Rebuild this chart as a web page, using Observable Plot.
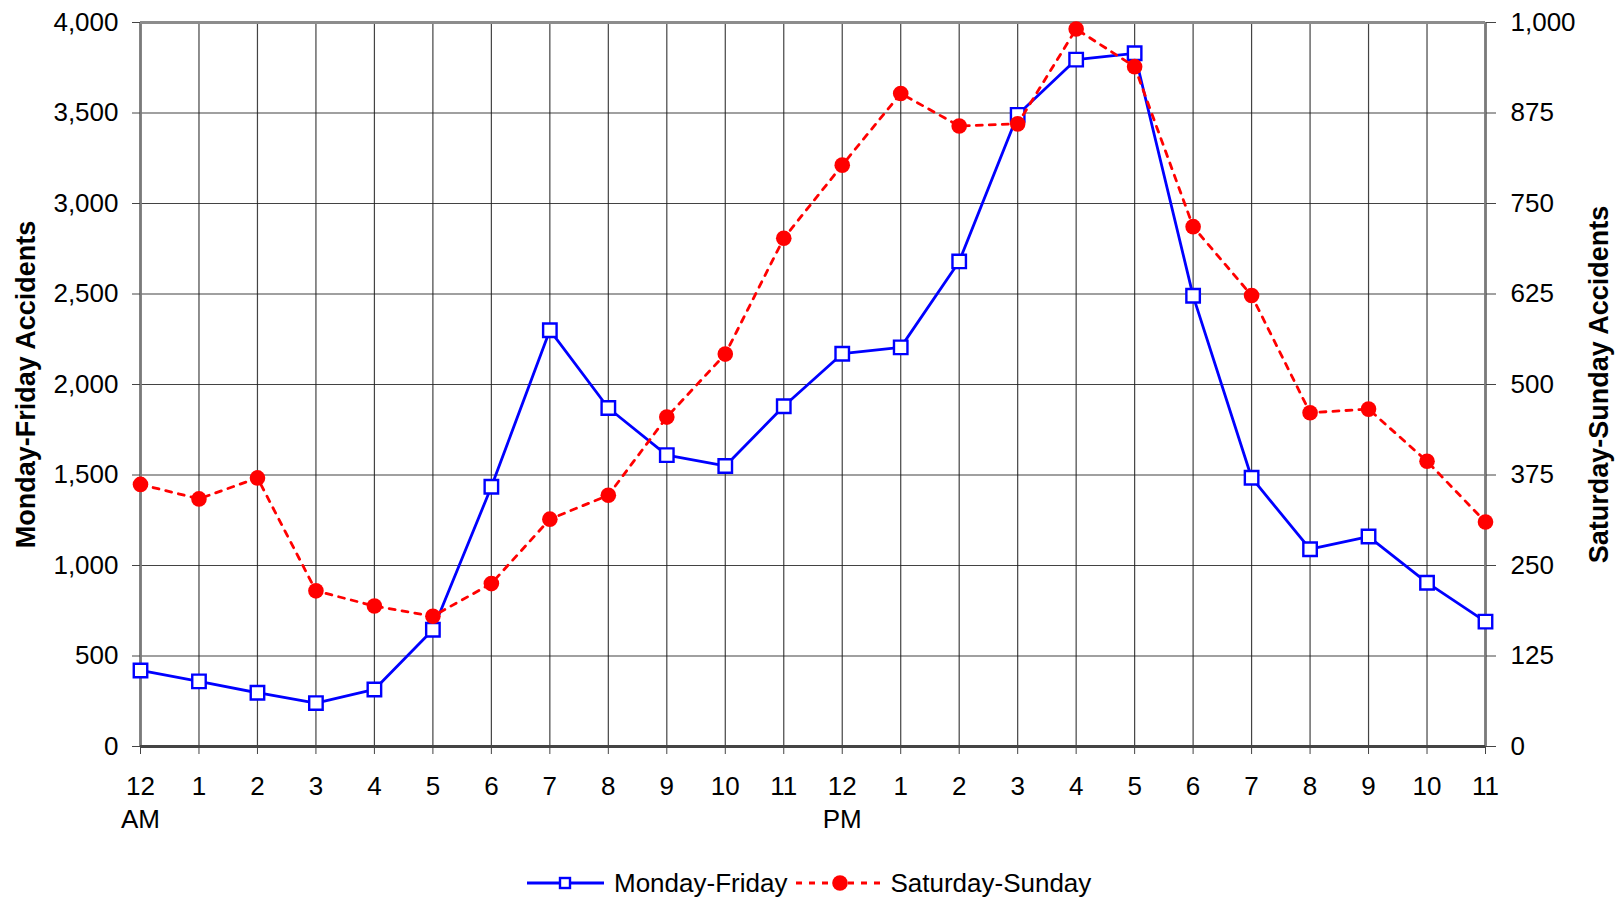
<!DOCTYPE html>
<html>
<head>
<meta charset="utf-8">
<script src="https://cdn.jsdelivr.net/npm/d3@7"></script>
<script src="https://cdn.jsdelivr.net/npm/@observablehq/plot@0.6"></script>
<style>
  html, body { margin: 0; padding: 0; background: #fff; }
  body { position: relative; width: 1619px; height: 899px; overflow: hidden; font-family: "Liberation Sans", Arial, sans-serif; }
  #chart svg { display: block; max-width: none !important; }
  #legend { position: absolute; left: 527px; top: 864px; height: 38px; display: flex; align-items: center; font-size: 26px; color: #000; white-space: nowrap; }
  #legend .item { display: flex; align-items: center; }
  #legend svg { display: block; }
</style>
</head>
<body>
<div id="chart"></div>
<div id="legend"></div>
<script>
// ---- data ----
const hours = [0,1,2,3,4,5,6,7,8,9,10,11,12,13,14,15,16,17,18,19,20,21,22,23];
const hourLabels = ["12","1","2","3","4","5","6","7","8","9","10","11","12","1","2","3","4","5","6","7","8","9","10","11"];
const periodHours = [0, 12];
const periodNames = ["AM", "PM"];
const weekday = [420,360,297,240,315,645,1435,2300,1870,1610,1550,1880,2170,2205,2680,3490,3795,3830,2490,1485,1090,1160,905,690];
const weekend = [362,342,371,215,194,180,225,314,347,455,542,702,803,902,857,860,991,939,718,623,461,466,394,310];
const leftTicks = [0,500,1000,1500,2000,2500,3000,3500,4000];
const seriesNames = ["Monday-Friday", "Saturday-Sunday"];
const leftTitle = "Monday-Friday Accidents";
const rightTitle = "Saturday-Sunday Accidents";

const wd = hours.map((h, i) => ({hour: h, value: weekday[i]}));
const we = hours.map((h, i) => ({hour: h, value: weekend[i]}));
const periods = periodHours.map((h, i) => ({hour: h, label: periodNames[i]}));
const ratio = 4000 / 1000; // right axis 0..1000 mapped onto left 0..4000

const fmt = d3.format(",");
const blue = "#0000ff", red = "#ff0000";
const dash = "6,7";

const plot = Plot.plot({
  width: 1619,
  height: 850,
  marginLeft: 140,
  marginRight: 134,
  marginTop: 22,
  marginBottom: 104,
  style: {fontFamily: "'Liberation Sans', Arial, sans-serif", fontSize: "26px", color: "#000", background: "#fff"},
  x: {domain: [0, 23]},
  y: {domain: [0, 4000]},
  marks: [
    Plot.gridX(hours, {stroke: "#222", strokeOpacity: 0.85, strokeWidth: 1.2}),
    Plot.gridY(leftTicks, {stroke: "#222", strokeOpacity: 0.85, strokeWidth: 1.2}),
    Plot.ruleX([0, 23], {stroke: "#7a7a7a", strokeWidth: 2.8}),
    Plot.ruleY([4000], {stroke: "#8c8c8c", strokeWidth: 2.8}),
    Plot.ruleY([0], {stroke: "#444", strokeWidth: 2.8}),
    Plot.axisX(hours, {
      tickSize: 8, tickPadding: 22, stroke: "#444",
      tickFormat: (d) => hourLabels[hours.indexOf(d)],
      fontSize: 26, label: null
    }),
    Plot.text(periods, {x: "hour", text: "label", frameAnchor: "bottom", dy: 81, fontSize: 26}),
    Plot.axisY(leftTicks, {
      anchor: "left", tickSize: 8, tickPadding: 14, stroke: "#444",
      tickFormat: fmt, fontSize: 26, label: null
    }),
    Plot.axisY(leftTicks, {
      anchor: "right", tickSize: 10, tickPadding: 15, stroke: "#444",
      tickFormat: d => fmt(d / ratio), fontSize: 26, label: null
    }),
    Plot.text([leftTitle], {frameAnchor: "left", textAnchor: "middle", dx: -114, rotate: -90, text: d => d, fontWeight: "bold", fontSize: 27}),
    Plot.text([rightTitle], {frameAnchor: "right", textAnchor: "middle", dx: 114, rotate: -90, text: d => d, fontWeight: "bold", fontSize: 27}),
    Plot.line(wd, {x: "hour", y: "value", stroke: blue, strokeWidth: 2.8}),
    Plot.dot(wd, {x: "hour", y: "value", symbol: "square", r: 7.6, stroke: blue, strokeWidth: 2.4, fill: "#fff"}),
    Plot.line(we, {x: "hour", y: d => d.value * ratio, stroke: red, strokeWidth: 2.8, strokeDasharray: dash}),
    Plot.dot(we, {x: "hour", y: d => d.value * ratio, r: 7.8, fill: red, stroke: "none"})
  ]
});
document.getElementById("chart").appendChild(plot);

// ---- legend ----
const legend = d3.select("#legend");
const item1 = legend.append("div").attr("class", "item");
const s1 = item1.append("svg").attr("width", 78).attr("height", 30);
s1.append("line").attr("x1", 0).attr("x2", 77).attr("y1", 15).attr("y2", 15).attr("stroke", blue).attr("stroke-width", 2.8);
s1.append("rect").attr("x", 33).attr("y", 10).attr("width", 10).attr("height", 10).attr("fill", "#fff").attr("stroke", blue).attr("stroke-width", 2.4);
item1.append("span").text(seriesNames[0]).style("margin-left", "9px").style("margin-right", "9px");
const item2 = legend.append("div").attr("class", "item");
const s2 = item2.append("svg").attr("width", 84).attr("height", 30);
s2.append("line").attr("x1", 0).attr("x2", 84).attr("y1", 15).attr("y2", 15).attr("stroke", red).attr("stroke-width", 2.8).attr("stroke-dasharray", dash);
s2.append("circle").attr("cx", 44).attr("cy", 15).attr("r", 7.8).attr("fill", red);
item2.append("span").text(seriesNames[1]).style("margin-left", "10px");
</script>
</body>
</html>
